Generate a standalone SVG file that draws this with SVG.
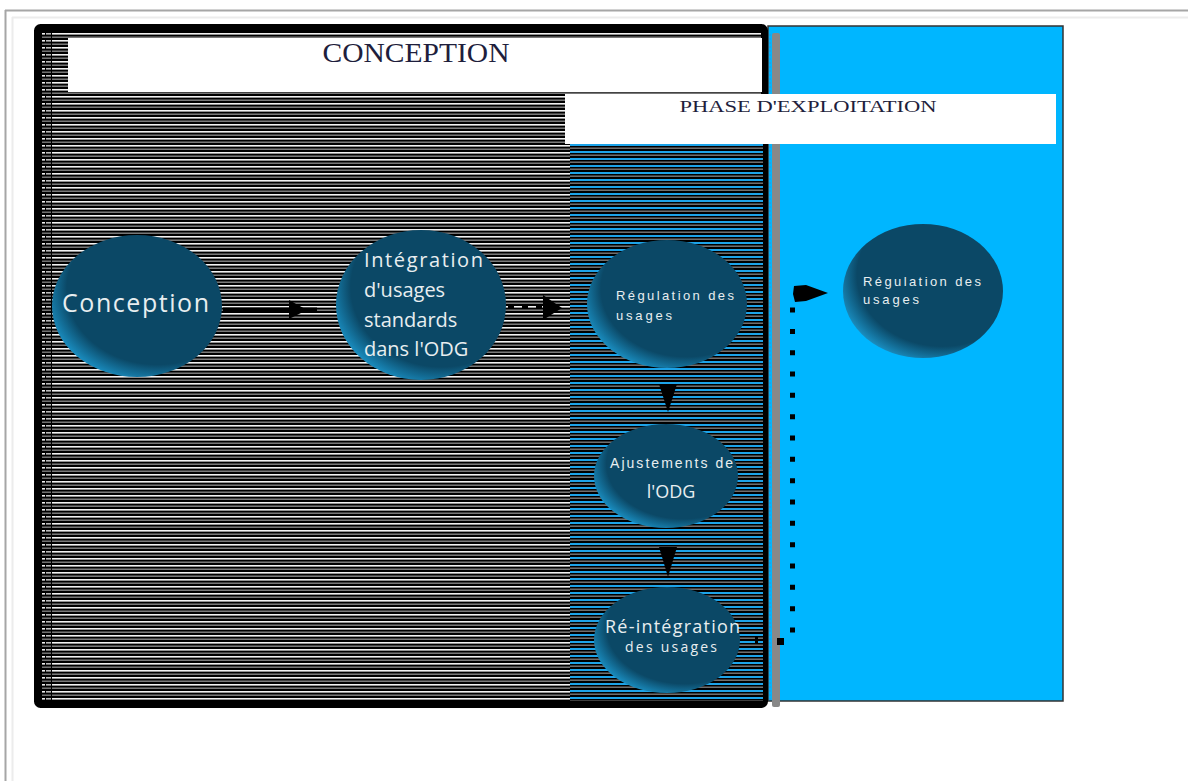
<svg xmlns="http://www.w3.org/2000/svg" width="1188" height="781" viewBox="0 0 1188 781">
<defs>
<pattern id="stripes" x="0" y="33" width="8" height="7" patternUnits="userSpaceOnUse">
<rect width="8" height="7" fill="#000"/>
<rect y="0" width="8" height="1.6" fill="#f2f2f2"/>
<rect y="3.5" width="8" height="1.4" fill="#858585"/>
</pattern>
<pattern id="bstripes" x="0" y="144" width="8" height="7" patternUnits="userSpaceOnUse">
<rect width="8" height="7" fill="#000"/>
<rect y="0" width="8" height="2" fill="#1da3e8"/>
<rect y="3.5" width="8" height="1.4" fill="#7a7a7a"/>
</pattern>
<pattern id="lcol" x="41" y="33" width="11" height="7" patternUnits="userSpaceOnUse">
<rect width="11" height="7" fill="#000"/>
<rect x="1" y="0" width="3" height="1.6" fill="#eeeeee"/>
<rect x="5" y="0" width="5" height="1.6" fill="#bbbbbb"/>
<rect x="1" y="3.5" width="9" height="1.4" fill="#7c7c7c"/>
</pattern>
<radialGradient id="ball" cx="0.62" cy="0.38" r="0.72">
<stop offset="0" stop-color="#0b4866"/>
<stop offset="0.74" stop-color="#0b4866"/>
<stop offset="1" stop-color="#1fa6e0"/>
</radialGradient>
<style>
.node{fill:url(#ball);}
.lbl{fill:#e8eef0;font-family:"Open Sans","DejaVu Sans",sans-serif;}
.lbla{fill:#e8eef0;font-family:"Liberation Sans",Arial,sans-serif;}
.ttl{fill:#1e1e3c;font-family:"Liberation Serif","Times New Roman",serif;}
.arr{fill:#000;stroke:none;}
.line{stroke:#000;fill:none;}
</style>
</defs>
<rect width="1188" height="781" fill="#fff"/>
<g id="page">
<line x1="5" y1="10.5" x2="1188" y2="10.5" stroke="#a6a6a6" stroke-width="2"/>
<line x1="5.5" y1="10" x2="5.5" y2="781" stroke="#a6a6a6" stroke-width="2"/>
<line x1="12" y1="17.5" x2="1188" y2="17.5" stroke="#ececec" stroke-width="2"/>
<line x1="12.5" y1="17" x2="12.5" y2="781" stroke="#ececec" stroke-width="2"/>
</g>
<g id="phase-exploitation-area">
<rect x="768" y="26" width="295" height="675" fill="#00b6ff" stroke="#333" stroke-width="1.5"/>
</g>
<g id="conception-area">
<rect x="37.5" y="27.5" width="727" height="677" rx="3" fill="url(#stripes)" stroke="#000" stroke-width="7"/>
<rect x="41" y="33" width="11" height="668" fill="url(#lcol)"/>
<rect x="570" y="144" width="193" height="557" fill="url(#bstripes)"/>
<line x1="770" y1="34" x2="770" y2="700" stroke="#1da3e8" stroke-width="2" stroke-dasharray="2 2"/>
<rect x="772" y="33" width="8" height="674" rx="2" fill="#888"/>
</g>
<g id="title-conception">
<rect x="68" y="38" width="694" height="54" fill="#fff"/>
<text class="ttl" x="416" y="62" font-size="27" text-anchor="middle" textLength="187" lengthAdjust="spacingAndGlyphs">CONCEPTION</text>
</g>
<g id="title-phase">
<rect x="565" y="94" width="491" height="50" fill="#fff"/>
<text class="ttl" x="808" y="112" font-size="16" text-anchor="middle" textLength="257" lengthAdjust="spacingAndGlyphs">PHASE D'EXPLOITATION</text>
</g>
<g id="connectors">
<line class="line" x1="223" y1="310" x2="317" y2="310" stroke-width="5"/>
<polygon class="arr" points="289,300 307,310 289,319"/>
<line class="line" x1="508" y1="307" x2="543" y2="307" stroke-width="4" stroke-dasharray="6 8"/>
<polygon class="arr" points="543,295 562,308 543,320"/>
<polygon class="arr" points="659,384 677,384 668,412"/>
<polygon class="arr" points="659,547 677,547 668,577"/>
<rect class="arr" x="755" y="637" width="3" height="7"/>
<rect class="arr" x="777" y="638" width="7" height="7"/>
<line class="line" x1="792.5" y1="632.5" x2="792.5" y2="307.5" stroke-width="5" stroke-dasharray="5 16.33"/>
<polygon class="arr" points="794,286 806,285 828,293 806,301 795,302 793,294"/>
</g>
<g id="node-conception">
<ellipse class="node" cx="137" cy="306" rx="85" ry="71"/>
<text class="lbl" x="62" y="312" font-size="25" textLength="147" lengthAdjust="spacing">Conception</text>
</g>
<g id="node-integration">
<ellipse class="node" cx="421" cy="305" rx="85" ry="75"/>
<text class="lbl" font-size="20">
<tspan x="364" y="267" textLength="119">Intégration</tspan>
<tspan x="364" y="297">d'usages</tspan>
<tspan x="364" y="327">standards</tspan>
<tspan x="364" y="356">dans l'ODG</tspan>
</text>
</g>
<g id="node-regulation-1">
<ellipse class="node" cx="667" cy="304" rx="80" ry="64"/>
<text class="lbla" font-size="13">
<tspan x="616" y="300" textLength="118" lengthAdjust="spacing">Régulation des</tspan>
<tspan x="616" y="320" textLength="56" lengthAdjust="spacing">usages</tspan>
</text>
</g>
<g id="node-ajustements">
<ellipse class="node" cx="666" cy="476" rx="72" ry="52"/>
<text class="lbla" font-size="14" x="610" y="468" textLength="123" lengthAdjust="spacing">Ajustements de</text>
<text class="lbl" font-size="18" x="671" y="498" text-anchor="middle">l'ODG</text>
</g>
<g id="node-reintegration">
<ellipse class="node" cx="667" cy="640" rx="73" ry="53"/>
<text class="lbl" font-size="18" x="605" y="633" textLength="135" lengthAdjust="spacing">Ré-intégration</text>
<text class="lbl" font-size="14" x="625" y="652" textLength="92" lengthAdjust="spacing">des usages</text>
</g>
<g id="node-regulation-2">
<ellipse class="node" cx="923" cy="291" rx="80" ry="67"/>
<text class="lbla" font-size="13">
<tspan x="863" y="286" textLength="118" lengthAdjust="spacing">Régulation des</tspan>
<tspan x="863" y="304" textLength="56" lengthAdjust="spacing">usages</tspan>
</text>
</g>
</svg>
